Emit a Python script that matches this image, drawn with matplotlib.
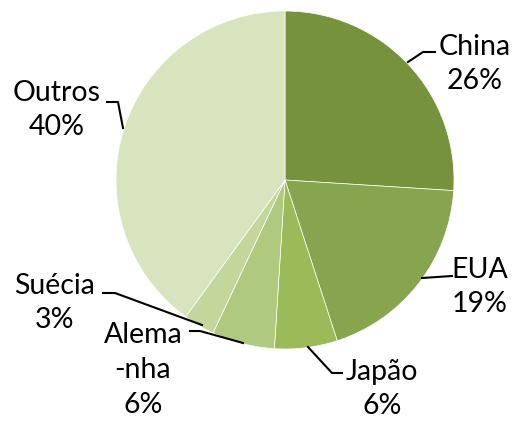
import matplotlib
matplotlib.use("Agg")
import matplotlib.pyplot as plt

# dados
labels = ["China", "EUA", "Japão", "Alemanha", "Suécia", "Outros"]
shares = [26, 19, 6, 6, 3, 40]
texts = ["China\n26%", "EUA\n19%", "Japão\n6%", "Alema\n-nha\n6%", "Suécia\n3%", "Outros\n40%"]
colors = ["#76923C", "#87A44F", "#9BBB59", "#AFC97E", "#C3D69B", "#D7E4BD"]

W, H = 514, 422
CX, CY, R = 285, 180, 169

# posição dos rótulos (px, origem no topo) e linhas de chamada
label_pos = [(475, 64), (480, 287), (382, 389), (143, 370), (55, 303), (57, 110)]
leaders = [
    [(408, 62), (423, 52), (435, 52)],
    [(422, 278), (452, 276)],
    [(308, 347), (332, 373), (342, 373)],
    [(243, 343), (200, 331), (190, 331)],
    [(202, 325), (115, 293), (103, 293)],
    [(123, 128), (118, 102), (107, 102)],
]

fig = plt.figure(figsize=(W / 100, H / 100), dpi=100)
ax = fig.add_axes([0, 0, 1, 1])
ax.axis("off")

ax.pie(shares, colors=colors, startangle=90, counterclock=False,
       center=(CX, H - CY), radius=R,
       wedgeprops=dict(edgecolor="white", linewidth=0.5))
ax.set_xlim(0, W)
ax.set_ylim(0, H)
ax.set_aspect("equal")

for txt, (x, y) in zip(texts, label_pos):
    ax.text(x, H - y, txt, ha="center", va="center", fontsize=20.5,
            family="Lato", linespacing=1.42, color="black")

for pts in leaders:
    xs = [p[0] for p in pts]
    ys = [H - p[1] for p in pts]
    ax.plot(xs, ys, color="black", linewidth=1.5)

fig.savefig("out.png", dpi=100)
